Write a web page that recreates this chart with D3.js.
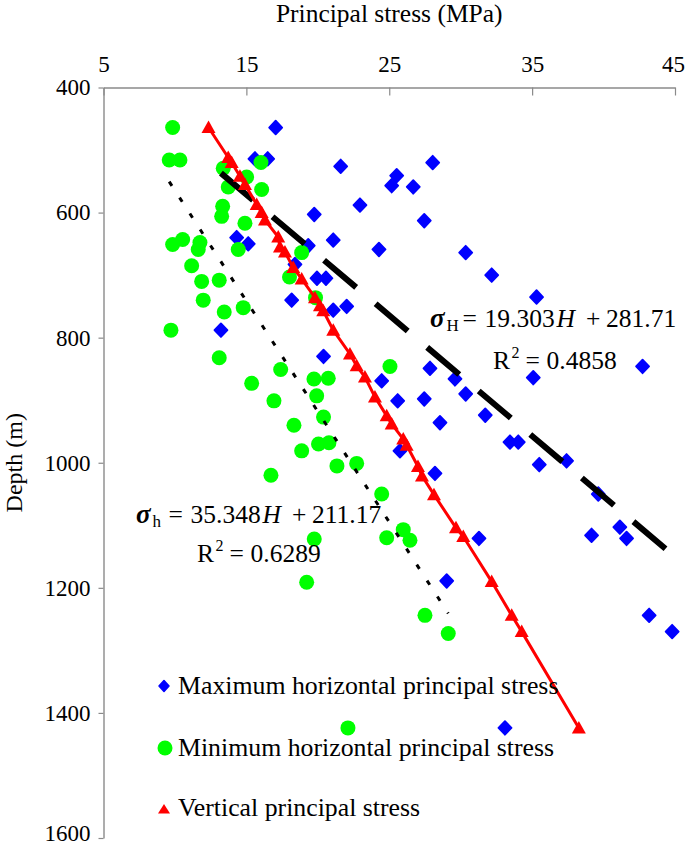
<!DOCTYPE html>
<html>
<head>
<meta charset="utf-8">
<script src="https://cdn.jsdelivr.net/npm/d3@7/dist/d3.min.js"></script>
<style>
  html, body { margin: 0; padding: 0; background: #fff; }
  svg { display: block; }
  text { font-family: "Liberation Serif", "Times New Roman", serif; fill: #000; }
</style>
</head>
<body>
<svg id="chart" width="685" height="846"></svg>
<script>
// ---------------- DATA ----------------
const xTicks = [5, 15, 25, 35, 45];
const yTicks = [400, 600, 800, 1000, 1200, 1400, 1600];

// Maximum horizontal principal stress: [stress MPa, depth m]
const sigmaHStress = [17.05, 15.60, 16.49, 21.60, 28.04, 25.52, 25.17, 26.68, 22.95, 19.75,
  27.45, 14.32, 15.13, 19.33, 21.08, 24.28, 30.35, 18.40, 19.94, 20.57,
  32.17, 18.17, 35.31, 21.08, 22.02, 13.22, 20.40, 42.73, 27.85, 35.08,
  24.47, 29.60, 30.35, 25.59, 27.45, 31.72, 28.55, 33.45, 34.03, 25.75,
  35.50, 37.41, 28.20, 39.63, 39.16, 41.14, 41.61, 31.28, 29.02, 43.19,
  44.80, 33.10];
const sigmaHDepth = [464, 514, 514, 526, 520, 541, 557, 559, 588, 603,
  613, 640, 650, 653, 644, 659, 664, 683, 705, 705,
  700, 740, 735, 756, 750, 788, 830, 846, 849, 864,
  869, 866, 890, 901, 898, 924, 936, 967, 967, 981,
  1003, 997, 1017, 1050, 1116, 1103, 1121, 1121, 1189, 1244,
  1270, 1424];

// Minimum horizontal principal stress
const sigmahStress = [9.84, 9.60, 10.35, 13.38, 16.02, 15.02, 13.73, 16.07, 13.34, 13.27,
  14.90, 9.84, 10.54, 11.75, 11.63, 14.43, 18.87, 11.17, 11.87, 13.10,
  18.02, 11.98, 13.45, 14.78, 9.72, 13.10, 17.40, 15.37, 16.93, 19.73,
  20.73, 19.84, 25.05, 19.92, 18.33, 20.40, 18.87, 20.05, 20.78, 16.72,
  21.34, 22.72, 24.47, 24.82, 25.98, 26.45, 19.75, 19.22, 27.50, 29.13,
  22.11];
const sigmahDepth = [464, 516, 516, 529, 520, 543, 559, 563, 590, 606,
  617, 651, 643, 648, 659, 659, 664, 685, 710, 708,
  703, 740, 759, 752, 788, 832, 851, 873, 901, 866,
  865, 736, 846, 893, 940, 927, 981, 970, 968, 1020,
  1005, 1001, 1050, 1120, 1107, 1124, 1122, 1191, 1244, 1273,
  1424];

// Vertical principal stress
const sigmaVStress = [12.35, 13.73, 13.97, 14.55, 14.90, 15.72, 16.07, 16.30, 17.23, 17.35,
  17.70, 18.28, 18.87, 19.80, 20.15, 20.38, 21.08, 22.25, 22.72, 23.30,
  24.00, 24.82, 25.17, 25.98, 26.22, 27.01, 27.29, 28.13, 29.67, 30.18,
  32.17, 33.57, 34.27, 38.27];
const sigmaVDepth = [464, 512, 520, 542, 555, 587, 600, 612, 639, 655,
  663, 688, 706, 736, 749, 757, 788, 826, 845, 863,
  895, 925, 938, 962, 972, 1006, 1021, 1051, 1104, 1118,
  1190, 1244, 1270, 1424];

// Linear trendlines (depth = slope * stress + intercept)
const trendH = { slope: 19.303, intercept: 281.71 };
const trendh = { slope: 35.348, intercept: 211.17 };

const legendLabels = ["Maximum horizontal principal stress",
                      "Minimum horizontal principal stress",
                      "Vertical principal stress"];

// ---------------- CHART ----------------
const svg = d3.select("#chart");
const x = d3.scaleLinear().domain([5, 45]).range([103.5, 675]);
const y = d3.scaleLinear().domain([400, 1600]).range([87.5, 838]);
const axisColor = "#8a8a8a";

// Axes
const gx = svg.append("g").attr("transform", `translate(0,${y(400)})`)
  .call(d3.axisTop(x).tickValues(xTicks).tickSizeInner(-8).tickSizeOuter(0).tickPadding(15.5).tickFormat(d3.format("d")));
const gy = svg.append("g").attr("transform", `translate(${x(5)},0)`)
  .call(d3.axisLeft(y).tickValues(yTicks).tickSizeInner(5).tickSizeOuter(0).tickPadding(8).tickFormat(d3.format("d")));
[gx, gy].forEach(g => {
  g.select(".domain").attr("stroke", axisColor).attr("stroke-width", 1.4);
  g.selectAll(".tick line").attr("stroke", axisColor).attr("stroke-width", 1.2);
  g.selectAll(".tick text").attr("font-size", 23).attr("font-family", "Liberation Serif, serif").attr("fill", "#000");
});
gx.selectAll(".tick text").filter(d => d === 45).attr("dx", -2);
gy.selectAll(".tick text").filter(d => d === 1600).attr("dy", "0.1em");

// Titles
svg.append("text").attr("x", (x(5) + x(45)) / 2).attr("y", 22).attr("text-anchor", "middle")
  .attr("font-size", 25.5).text("Principal stress (MPa)");
svg.append("text").attr("transform", `translate(22,${(y(400) + y(1600)) / 2}) rotate(-90)`)
  .attr("text-anchor", "middle").attr("font-size", 24).text("Depth (m)");

// markers
const diamondPath = "M0,-6.8L6.5,0L0,6.8L-6.5,0Z";
const trianglePath = "M0,-7L7,5.5L-7,5.5Z";

const blue = sigmaHStress.map((v, i) => [v, sigmaHDepth[i]]);
const green = sigmahStress.map((v, i) => [v, sigmahDepth[i]]);
const red = sigmaVStress.map((v, i) => [v, sigmaVDepth[i]]);

svg.append("g").selectAll("path").data(blue).join("path")
  .attr("d", diamondPath).attr("transform", d => `translate(${x(d[0])},${y(d[1])})`)
  .attr("fill", "#0000ff").attr("stroke", "#0000ff").attr("stroke-width", 1.8).attr("stroke-linejoin", "round");

svg.append("g").selectAll("circle").data(green).join("circle")
  .attr("cx", d => x(d[0])).attr("cy", d => y(d[1])).attr("r", 7.5).attr("fill", "#00ff00");

// Trendlines
function trendSeg(t, data) {
  const ext = d3.extent(data, d => d[0]);
  return ext.map(s => [s, t.slope * s + t.intercept]);
}
const line = d3.line().x(d => x(d[0])).y(d => y(d[1]));
svg.append("path").attr("d", line(trendSeg(trendH, blue))).attr("fill", "none")
  .attr("stroke", "#000").attr("stroke-width", 6).attr("stroke-dasharray", "42,25.5");
svg.append("path").attr("d", line(trendSeg(trendh, green))).attr("fill", "none")
  .attr("stroke", "#000").attr("stroke-width", 3).attr("stroke-dasharray", "5,14");

// Vertical stress line + triangles
const redSorted = red.slice().sort((a, b) => a[1] - b[1]);
svg.append("path").attr("d", line(redSorted)).attr("fill", "none")
  .attr("stroke", "#ff0000").attr("stroke-width", 3);
svg.append("g").selectAll("path").data(red).join("path")
  .attr("d", trianglePath).attr("transform", d => `translate(${x(d[0])},${y(d[1])})`)
  .attr("fill", "#ff0000");

// Equation labels
function equation(xp, yp, sub, body1, body2, r2x, r2y, r2) {
  const t = svg.append("text").attr("y", yp).attr("font-size", 25.5);
  t.append("tspan").attr("x", xp).attr("font-style", "italic").attr("font-weight", "bold").attr("font-size", 27).text("σ");
  t.append("tspan").attr("x", xp + 16.5).attr("font-size", 17).attr("dy", 3.5).text(sub);
  t.append("tspan").attr("x", xp + 32.5).attr("dy", -3.5).text("=");
  t.append("tspan").attr("x", xp + 54.5).text(body1);
  t.append("tspan").attr("x", xp + 126.5).attr("font-style", "italic").text("H");
  t.append("tspan").attr("x", xp + 156).text("+");
  t.append("tspan").attr("x", xp + 176).text(body2);
  const r = svg.append("text").attr("y", r2y).attr("font-size", 25.5);
  r.append("tspan").attr("x", r2x).text("R");
  r.append("tspan").attr("x", r2x + 18.5).attr("font-size", 16).attr("dy", -11).text("2");
  r.append("tspan").attr("x", r2x + 32.5).attr("dy", 11).text("=");
  r.append("tspan").attr("x", r2x + 53.5).text(r2);
}
equation(430, 327, "H", "19.303", "281.71", 493, 369, "0.4858");
equation(136, 523, "h", "35.348", "211.17", 197, 562, "0.6289");

// Legend
const legendY = [694, 756, 816];
const lg = svg.append("g");
legendLabels.forEach((lab, i) => {
  const cy = legendY[i] - 8;
  if (i === 0) lg.append("path").attr("d", "M0,-5.5L5,0L0,5.5L-5,0Z").attr("transform", `translate(164,${cy})`)
      .attr("fill", "#0000ff").attr("stroke", "#0000ff").attr("stroke-width", 1.5).attr("stroke-linejoin", "round");
  if (i === 1) lg.append("circle").attr("cx", 165).attr("cy", cy).attr("r", 7.5).attr("fill", "#00ff00");
  if (i === 2) lg.append("path").attr("d", "M0,-5L6,4.5L-6,4.5Z").attr("transform", `translate(164,${cy + 1})`).attr("fill", "#ff0000");
  lg.append("text").attr("x", 178).attr("y", legendY[i]).attr("font-size", 25.8).text(lab);
});
</script>
</body>
</html>
